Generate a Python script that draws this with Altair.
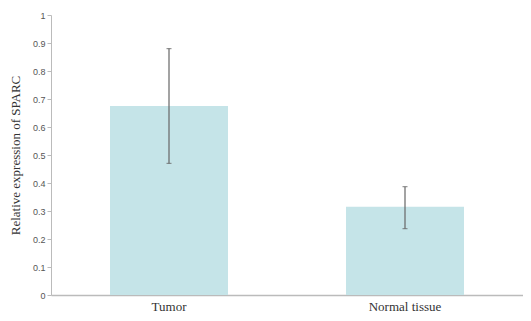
import altair as alt
import pandas as pd

categories = ["Tumor", "Normal tissue"]
means = [0.675, 0.315]
lower = [0.47, 0.237]
upper = [0.88, 0.387]
ytick_values = [0, 0.1, 0.2, 0.3, 0.4, 0.5, 0.6, 0.7, 0.8, 0.9, 1]

df = pd.DataFrame({"cat": categories, "mean": means, "lo": lower, "hi": upper})

xaxis = alt.Axis(labelAngle=0, labelFont="Liberation Serif", labelFontSize=13,
                 labelColor="#333", ticks=False, labelPadding=5,
                 domainColor="#bbbbbb", domainWidth=1.5)
yaxis = alt.Axis(values=ytick_values, format="~g", grid=False, labelOverlap=False,
                 labelFont="Liberation Sans", labelFontSize=9, labelColor="#555",
                 tickColor="#bbbbbb", tickSize=4, domainColor="#bbbbbb",
                 titleFont="Liberation Serif", titleFontSize=13,
                 titleFontWeight="normal", titleColor="#333", titlePadding=10)
xscale = alt.Scale(paddingInner=0.5, paddingOuter=0.25)
yscale = alt.Scale(domain=[0, 1])
ytitle = "Relative expression of SPARC"

def xs():
    return alt.X("cat:N", sort=categories, title=None, scale=xscale, axis=xaxis)

def ys(field):
    return alt.Y(field, scale=yscale, title=ytitle, axis=yaxis)

bars = alt.Chart(df).mark_bar(color="#c5e4e8").encode(x=xs(), y=ys("mean:Q"))
rules = alt.Chart(df).mark_rule(color="#666", strokeWidth=1.2).encode(
    x=xs(), y=ys("lo:Q"), y2="hi:Q")
caps_lo = alt.Chart(df).mark_tick(color="#666", size=5, thickness=1.2, orient="horizontal").encode(
    x=xs(), y=ys("lo:Q"))
caps_hi = alt.Chart(df).mark_tick(color="#666", size=5, thickness=1.2, orient="horizontal").encode(
    x=xs(), y=ys("hi:Q"))

chart = alt.layer(bars, rules, caps_lo, caps_hi).properties(
    width=515, height=305,
    autosize=alt.AutoSizeParams(type="fit", contains="padding"),
    padding={"left": 1, "top": 3, "right": 0, "bottom": 0},
).configure_view(stroke=None).configure_tick(bandSize=5)

chart.save("out.html", embed_options={"renderer": "svg", "actions": False})
